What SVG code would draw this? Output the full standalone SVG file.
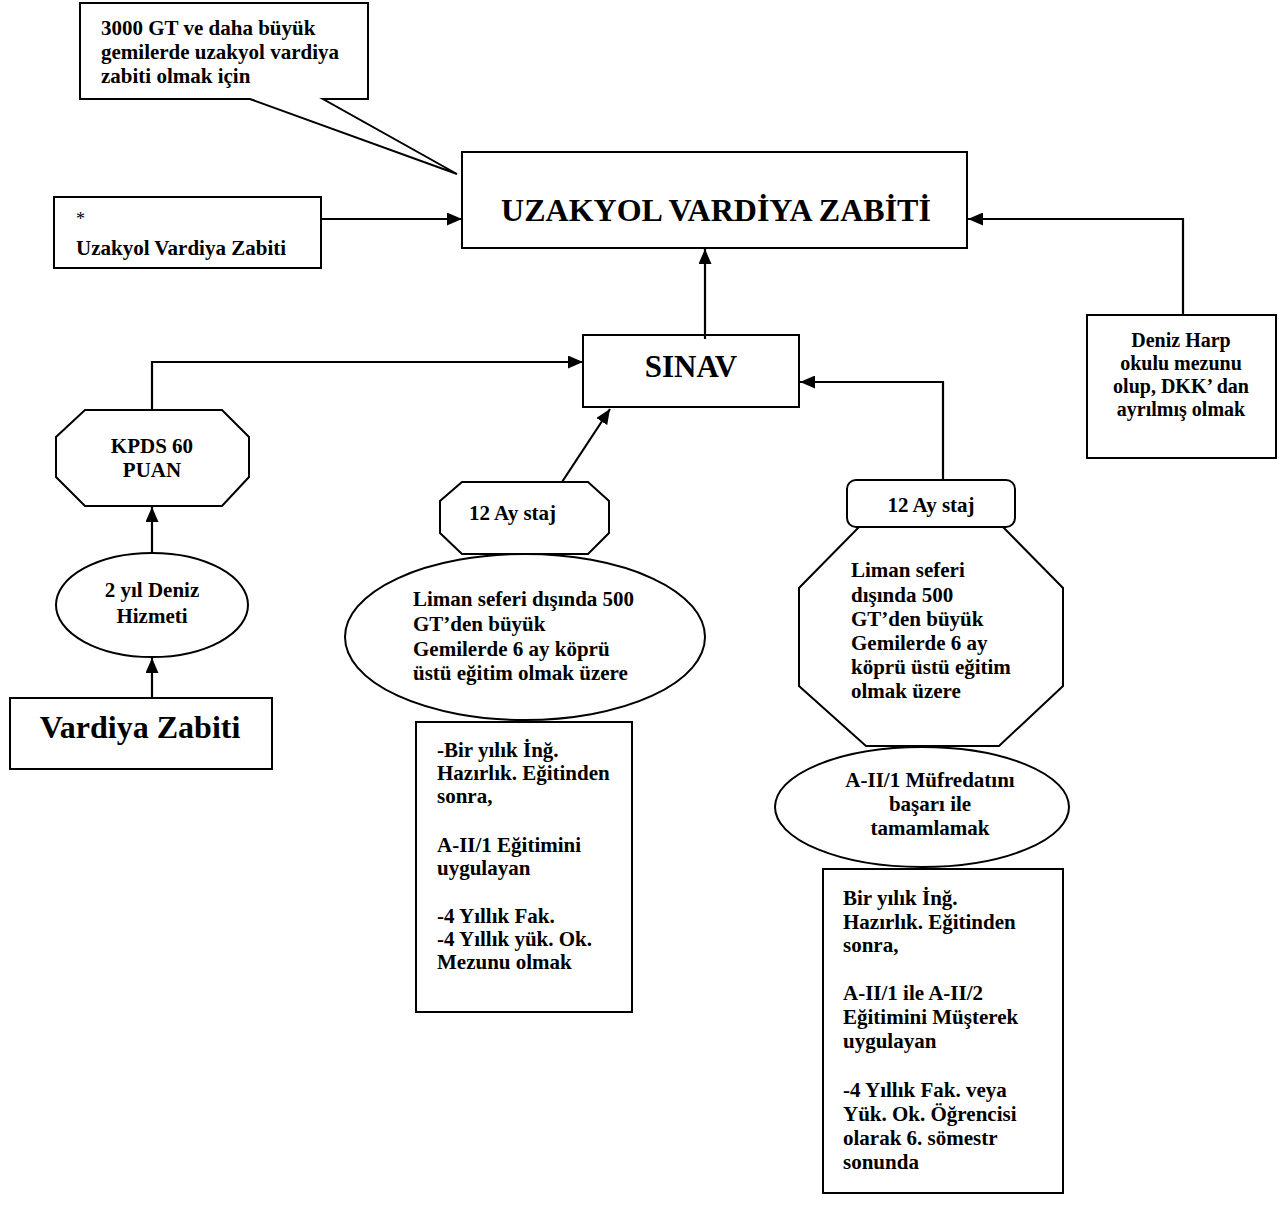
<svg xmlns="http://www.w3.org/2000/svg" width="1282" height="1207" viewBox="0 0 1282 1207">
<defs>
<style>
.s{fill:#fff;stroke:#000;stroke-width:2}
.t{font-family:"Liberation Serif","Times New Roman",serif;font-weight:bold;font-size:21px;fill:#000}
.c{text-anchor:middle}
.big{font-size:31px}
.md{font-size:20px}
.ln{fill:none;stroke:#000;stroke-width:2.2}
</style>
<marker id="ah" viewBox="0 0 15 13" refX="15" refY="6.5" markerWidth="15" markerHeight="13" markerUnits="userSpaceOnUse" orient="auto">
<path d="M0,0 L15,6.5 L0,13 Z" fill="#000"/>
</marker>
</defs>
<rect width="1282" height="1207" fill="#fff"/>

<g id="callout">
<path class="s" stroke-width="1.6" d="M80,3 H368 V99 H323 L457,174 L250,99 H80 Z"/>
<text class="t" x="101" y="35">3000 GT ve daha büyük</text>
<text class="t" x="101" y="59">gemilerde uzakyol vardiya</text>
<text class="t" x="101" y="83">zabiti olmak için</text>
</g>

<g id="uzakyol">
<rect class="s" x="462" y="152" width="505" height="96"/>
<text class="t c" x="716" y="221" style="font-size:32px">UZAKYOL VARDİYA ZABİTİ</text>
</g>

<g id="star-box">
<rect class="s" x="54" y="197" width="267" height="71"/>
<text x="76" y="225" style="font-family:'Liberation Serif',serif;font-size:18px;fill:#000">*</text>
<text class="t" x="76" y="255">Uzakyol Vardiya Zabiti</text>
</g>

<g id="deniz-harp">
<rect class="s" x="1087" y="315" width="189" height="143"/>
<text class="t c md" x="1181" y="347">Deniz Harp</text>
<text class="t c md" x="1181" y="370">okulu mezunu</text>
<text class="t c md" x="1181" y="393">olup, DKK’ dan</text>
<text class="t c md" x="1181" y="416">ayrılmış olmak</text>
</g>

<g id="sinav">
<rect class="s" x="583" y="335" width="216" height="72"/>
<text class="t c big" x="691" y="377">SINAV</text>
</g>

<g id="kpds">
<polygon class="s" points="85,410 222,410 249,437 249,477 222,506 85,506 56,477 56,437"/>
<text class="t c" x="152" y="453">KPDS 60</text>
<text class="t c" x="152" y="477">PUAN</text>
</g>

<g id="deniz-hizmeti">
<ellipse class="s" cx="152" cy="605" rx="96" ry="52"/>
<text class="t c" x="152" y="597">2 yıl Deniz</text>
<text class="t c" x="152" y="623">Hizmeti</text>
</g>

<g id="vardiya">
<rect class="s" x="10" y="698" width="262" height="71"/>
<text class="t c" x="140" y="738" style="font-size:32px">Vardiya Zabiti</text>
</g>

<g id="staj-left">
<polygon class="s" points="462,482 588,482 609,501 609,533 588,554 462,554 440,533 440,501"/>
<text class="t" x="469" y="520">12 Ay staj</text>
</g>

<g id="liman-left">
<ellipse class="s" cx="525" cy="637" rx="180" ry="83"/>
<text class="t" x="413" y="606">Liman seferi dışında 500</text>
<text class="t" x="413" y="631">GT’den büyük</text>
<text class="t" x="413" y="656">Gemilerde 6 ay köprü</text>
<text class="t" x="413" y="680">üstü eğitim olmak üzere</text>
</g>

<g id="left-box">
<rect class="s" x="416" y="722" width="216" height="290"/>
<text class="t" x="437" y="757">-Bir yılık İnğ.</text>
<text class="t" x="437" y="780">Hazırlık. Eğitinden</text>
<text class="t" x="437" y="803">sonra,</text>
<text class="t" x="437" y="852">A-II/1 Eğitimini</text>
<text class="t" x="437" y="875">uygulayan</text>
<text class="t" x="437" y="923">-4 Yıllık Fak.</text>
<text class="t" x="437" y="946">-4 Yıllık yük. Ok.</text>
<text class="t" x="437" y="969">Mezunu olmak</text>
</g>

<g id="staj-right">
<rect class="s" x="847" y="480" width="168" height="47" rx="9" ry="9"/>
<text class="t c" x="931" y="512">12 Ay staj</text>
</g>

<g id="liman-right">
<polygon class="s" points="859,527 1003,527 1063,588 1063,686 999,746 866,746 799,686 799,588"/>
<text class="t" x="851" y="577">Liman seferi</text>
<text class="t" x="851" y="602">dışında 500</text>
<text class="t" x="851" y="626">GT’den büyük</text>
<text class="t" x="851" y="650">Gemilerde 6 ay</text>
<text class="t" x="851" y="674">köprü üstü eğitim</text>
<text class="t" x="851" y="698">olmak üzere</text>
</g>

<g id="mufredat">
<ellipse class="s" cx="922" cy="807" rx="147" ry="60"/>
<text class="t c" x="930" y="787">A-II/1 Müfredatını</text>
<text class="t c" x="930" y="811">başarı ile</text>
<text class="t c" x="930" y="835">tamamlamak</text>
</g>

<g id="right-box">
<rect class="s" x="823" y="869" width="240" height="324"/>
<text class="t" x="843" y="905">Bir yılık İnğ.</text>
<text class="t" x="843" y="929">Hazırlık. Eğitinden</text>
<text class="t" x="843" y="952">sonra,</text>
<text class="t" x="843" y="1000">A-II/1 ile A-II/2</text>
<text class="t" x="843" y="1024">Eğitimini Müşterek</text>
<text class="t" x="843" y="1048">uygulayan</text>
<text class="t" x="843" y="1097">-4 Yıllık Fak. veya</text>
<text class="t" x="843" y="1121">Yük. Ok. Öğrencisi</text>
<text class="t" x="843" y="1145">olarak 6. sömestr</text>
<text class="t" x="843" y="1169">sonunda</text>
</g>

<g id="connectors">
<path class="ln" d="M321,219 H462" marker-end="url(#ah)"/>
<path class="ln" d="M1183,315 V219 H968" marker-end="url(#ah)"/>
<path class="ln" d="M705,339 V249" marker-end="url(#ah)"/>
<path class="ln" d="M152,410 V362 H583" marker-end="url(#ah)"/>
<path class="ln" d="M943,480 V382 H800" marker-end="url(#ah)"/>
<path class="ln" d="M562,482 L610,409" marker-end="url(#ah)"/>
<path class="ln" d="M152,553 V507" marker-end="url(#ah)"/>
<path class="ln" d="M152,698 V658" marker-end="url(#ah)"/>
</g>
</svg>
